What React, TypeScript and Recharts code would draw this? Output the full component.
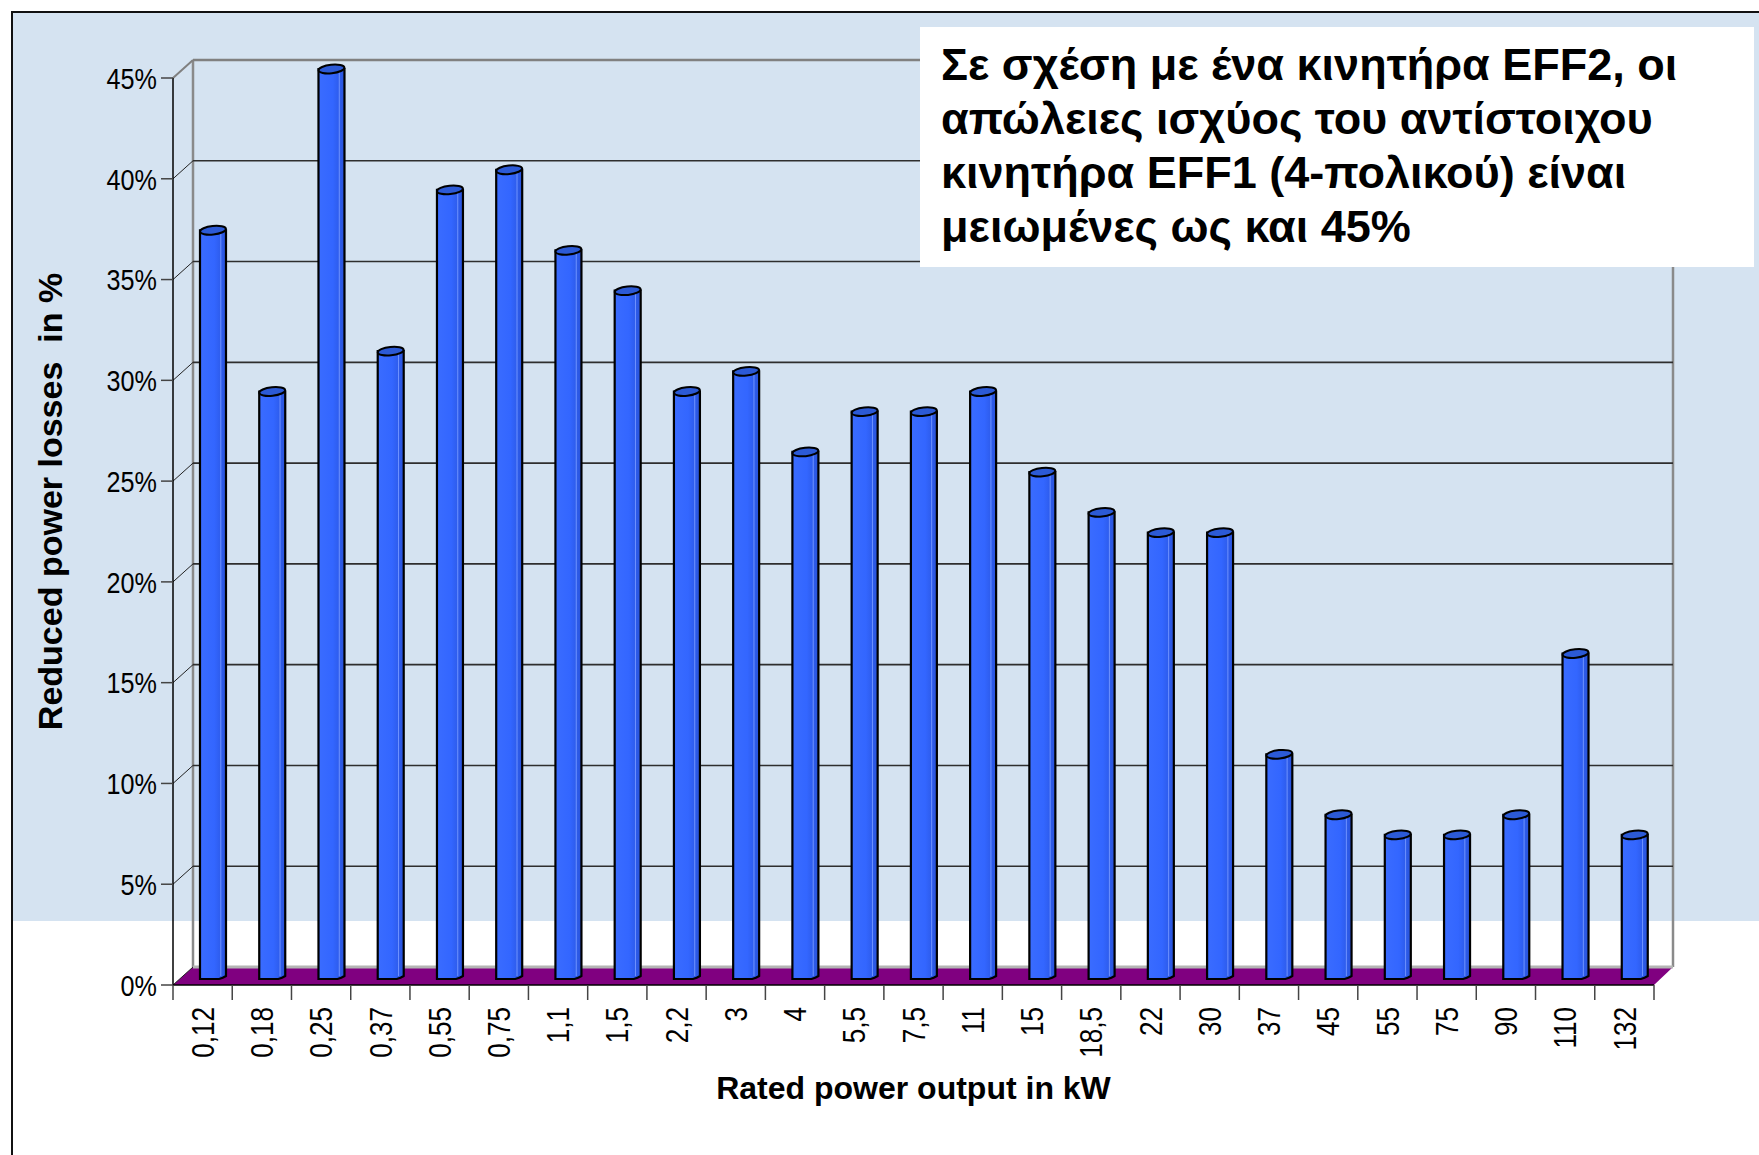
import React from 'react'
import { Bar, BarChart, CartesianGrid, Label, XAxis, YAxis } from 'recharts'

// rated power output (kW) and reduced power losses (%)
const categories = ['0,12', '0,18', '0,25', '0,37', '0,55', '0,75', '1,1', '1,5', '2,2', '3', '4', '5,5', '7,5', '11', '15', '18,5', '22', '30', '37', '45', '55', '75', '90', '110', '132']
const losses = [37, 29, 45, 31, 39, 40, 36, 34, 29, 30, 26, 28, 28, 29, 25, 23, 22, 22, 11, 8, 7, 7, 8, 16, 7]
const yTicks = [0, 5, 10, 15, 20, 25, 30, 35, 40, 45]

const data = categories.map((kw, i) => ({ kw, loss: losses[i] }))

const DEPTH_X = 20
const DEPTH_Y = 18
const NARROW = 0.84 // squeeze for the narrow tick font
const sans = "'Liberation Sans', Arial, sans-serif"

// back wall gridline + diagonal from the front axis; the zero line also draws floor and wall edges
function WallLine(props: any) {
	const { x1, x2, y1, y, height } = props
	const bottom = y + height
	const isFloor = Math.abs(y1 - bottom) < 1
	const isTop = Math.abs(y1 - y) < 1
	const bx1 = x1 + DEPTH_X
	const bx2 = x2 + DEPTH_X - 1
	const by = y1 - DEPTH_Y
	return (
		<g>
			{isFloor && (
				<g>
					<polygon
						points={`${x1},${y1} ${bx1},${by} ${bx2},${by} ${x2},${y1}`}
						fill="#800080"
					/>
					<line x1={bx1} y1={y - DEPTH_Y} x2={bx1} y2={by} stroke="#8a8a8a" strokeWidth={2.5} />
					<line x1={bx2} y1={y - DEPTH_Y} x2={bx2} y2={by} stroke="#8a8a8a" strokeWidth={2.5} />
				</g>
			)}
			<line x1={x1} y1={y1} x2={bx1} y2={by} stroke={isTop ? '#808080' : '#222'} strokeWidth={isTop ? 2 : 1} />
			<line
				x1={bx1}
				y1={by}
				x2={bx2}
				y2={by}
				stroke={isFloor ? '#b4b4b4' : isTop ? '#808080' : '#2e2e2e'}
				strokeWidth={isFloor ? 3 : isTop ? 2.5 : 1.6}
			/>
		</g>
	)
}

function Cylinder(props: any) {
	const { x, y, width, height } = props
	if (height == null || height <= 0) return null
	const l = x + DEPTH_X / 2
	const r = l + width
	const t = y - DEPTH_Y / 2
	const b = y + height - DEPTH_Y / 2
	const cx = (l + r) / 2
	return (
		<g>
			<path
				d={`M${l},${t} L${l},${b + 3} L${r - 7},${b + 3} Q${r - 3},${b + 2} ${r},${b} L${r},${t} Z`}
				fill="url(#cylBody)"
				stroke="#000"
				strokeWidth={2.2}
			/>
			<line x1={l + width * 0.8} y1={t + 3} x2={l + width * 0.8} y2={b} stroke="#6f93ff" strokeWidth={1} />
			<ellipse
				cx={cx}
				cy={t}
				rx={width / 2}
				ry={4.2}
				transform={`rotate(-6 ${cx} ${t})`}
				fill="#2c5ad6"
				stroke="#000"
				strokeWidth={2}
			/>
		</g>
	)
}

function YTick(props: any) {
	const { x, y, payload } = props
	return (
		<g>
			<line x1={x - 12} y1={y} x2={x} y2={y} stroke="#444" strokeWidth={1.5} />
			<text
				transform={`translate(${x - 16},${y}) scale(${NARROW},1)`}
				dy="0.36em"
				textAnchor="end"
				fontFamily={sans}
				fontSize={30}
				fill="#000"
			>
				{payload.value}%
			</text>
		</g>
	)
}

function XTick(props: any) {
	const { x, y, payload, index, visibleTicksCount } = props
	const half = payload.offset ?? 29.6
	return (
		<g>
			<line x1={x - half} y1={y} x2={x - half} y2={y + 15} stroke="#444" strokeWidth={1.5} />
			{index === visibleTicksCount - 1 && (
				<line x1={x + half} y1={y} x2={x + half} y2={y + 15} stroke="#444" strokeWidth={1.5} />
			)}
			<text
				transform={`translate(${x},${y + 22}) rotate(-90) scale(${NARROW},1)`}
				textAnchor="end"
				dy="0.36em"
				fontFamily={sans}
				fontSize={31}
				fill="#000"
			>
				{payload.value}
			</text>
		</g>
	)
}

function XTitle(props: any) {
	const { viewBox } = props
	return (
		<text
			x={viewBox.x + viewBox.width / 2}
			y={viewBox.y + 114}
			textAnchor="middle"
			fontFamily={sans}
			fontWeight="bold"
			fontSize={32}
			fill="#000"
		>
			Rated power output in kW
		</text>
	)
}

function YTitle(props: any) {
	const { viewBox } = props
	const cx = viewBox.x - 63
	const cy = viewBox.y + viewBox.height / 2 - 30
	return (
		<text
			transform={`translate(${cx},${cy}) rotate(-90)`}
			textAnchor="middle"
			dy="0.36em"
			fontFamily={sans}
			fontWeight="bold"
			fontSize={34}
			fill="#000"
			style={{ whiteSpace: 'pre' }}
		>
			Reduced power losses  in %
		</text>
	)
}

export default function App() {
	return (
		<div style={{ position: 'absolute', left: 0, top: 0, width: 1759, height: 1155, background: '#fff', overflow: 'hidden' }}>
			<div
				style={{
					position: 'absolute',
					left: 11,
					top: 11,
					right: 0,
					height: 908,
					background: '#d5e3f1',
					borderLeft: '2px solid #111',
					borderTop: '2px solid #111'
				}}
			/>
			<div style={{ position: 'absolute', left: 11, top: 919, width: 2, bottom: 0, background: '#111' }} />
			<div style={{ position: 'absolute', left: 0, top: 0 }}>
				<BarChart
					width={1759}
					height={1155}
					data={data}
					margin={{ top: 78, right: 105, bottom: 110, left: 113 }}
					barSize={26}
				>
					<defs>
						<linearGradient id="cylBody" x1="0" y1="0" x2="1" y2="0">
							<stop offset="0%" stopColor="#3a6cff" />
							<stop offset="55%" stopColor="#3366ff" />
							<stop offset="72%" stopColor="#2f5ff2" />
							<stop offset="100%" stopColor="#2a54da" />
						</linearGradient>
					</defs>
					<CartesianGrid vertical={false} horizontal={(p: any) => <WallLine {...p} />} />
					<XAxis
						dataKey="kw"
						interval={0}
						height={60}
						tickSize={0}
						tickMargin={0}
						tickLine={false}
						axisLine={{ stroke: '#000', strokeWidth: 1.5 }}
						tick={<XTick />}
					>
						<Label content={<XTitle />} />
					</XAxis>
					<YAxis
						domain={[0, 45]}
						ticks={yTicks}
						width={60}
						tickSize={0}
						tickMargin={0}
						tickLine={false}
						axisLine={{ stroke: '#000', strokeWidth: 1.5 }}
						tick={<YTick />}
					>
						<Label content={<YTitle />} />
					</YAxis>
					<Bar dataKey="loss" shape={<Cylinder />} isAnimationActive={false} />
				</BarChart>
			</div>
			<div
				style={{
					position: 'absolute',
					left: 920,
					top: 27,
					width: 834,
					height: 240,
					background: '#fff',
					boxSizing: 'border-box',
					paddingLeft: 21,
					paddingTop: 11,
					fontFamily: sans,
					fontWeight: 'bold',
					fontSize: 45,
					lineHeight: '54px',
					color: '#000',
					whiteSpace: 'nowrap'
				}}
			>
				<div>Σε σχέση με ένα κινητήρα EFF2, οι</div>
				<div>απώλειες ισχύος του αντίστοιχου</div>
				<div>κινητήρα EFF1 (4-πολικού) είναι</div>
				<div>μειωμένες ως και 45%</div>
			</div>
		</div>
	)
}
